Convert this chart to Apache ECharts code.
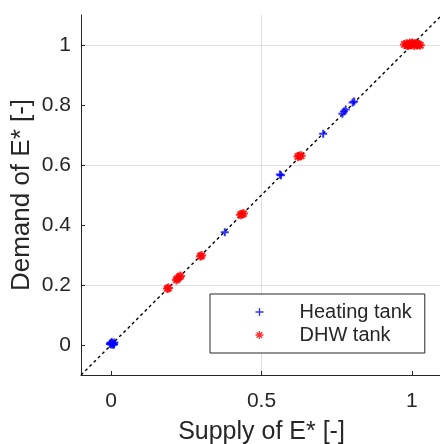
<!DOCTYPE html>
<html>
<head>
<meta charset="utf-8">
<script src="https://cdn.jsdelivr.net/npm/echarts@6/dist/echarts.min.js"></script>
<style>
html,body{margin:0;padding:0;background:#fff;}
#chart{width:440px;height:444px;}
</style>
</head>
<body>
<div id="chart"></div>
<script>
// ---- data ----
const seriesNames = ['Heating tank', 'DHW tank'];
const heatingTank = [
  [0.000, 0.002], [0.004, 0.006], [0.008, 0.004], [-0.004, 0.003], [0.011, 0.008],
  [0.002, 0.010], [0.006, 0.001], [-0.002, 0.007], [0.010, 0.002],
  [0.378, 0.376],
  [0.561, 0.568], [0.565, 0.566],
  [0.705, 0.704],
  [0.769, 0.771], [0.774, 0.778], [0.780, 0.785],
  [0.803, 0.808], [0.808, 0.812]
];
const dhwTank = [
  [0.187, 0.188], [0.191, 0.190],
  [0.217, 0.217], [0.221, 0.221], [0.227, 0.227], [0.231, 0.230],
  [0.297, 0.296], [0.301, 0.298],
  [0.430, 0.434], [0.435, 0.436], [0.440, 0.438],
  [0.621, 0.628], [0.626, 0.630], [0.632, 0.631],
  [0.975, 1.002], [0.982, 1.004], [0.988, 0.999], [0.993, 1.006], [0.998, 1.001],
  [1.003, 1.004], [1.008, 0.998], [1.013, 1.003], [1.018, 1.000], [1.023, 1.002],
  [1.028, 0.999], [0.985, 0.998], [1.000, 1.007], [1.015, 1.006]
];
const identityLine = [[-0.1, -0.1], [1.1, 1.1]];
const xTicks = [0, 0.5, 1];
const yTicks = [0, 0.2, 0.4, 0.6, 0.8, 1];
const axisRange = [-0.1, 1.1];
const xLabel = 'Supply of E* [-]';
const yLabel = 'Demand of E* [-]';

const plusPath = 'path://M5,0L5,10M0,5L10,5';
const starPath = 'path://M5,0L5,10M0,5L10,5M1.5,1.5L8.5,8.5M1.5,8.5L8.5,1.5';
const txt = '#262626';
const gridCol = '#dfdfdf';
const clear = 'rgba(0,0,0,0)';
const fontFam = '"Liberation Sans", Arial, Helvetica, sans-serif';

function fmt(v){ return String(Math.round(v*10)/10); }

const chart = echarts.init(document.getElementById('chart'), null, {renderer:'canvas'});
chart.setOption({
  animation: false,
  backgroundColor: '#fff',
  grid: {left: 81, top: 15, right: -2, bottom: 69, containLabel: false, outerBoundsMode: 'none'},
  xAxis: {
    type: 'value', min: axisRange[0], max: axisRange[1], interval: 0.1,
    name: xLabel, nameLocation: 'middle', nameGap: 45, nameMoveOverlap: false,
    nameTextStyle: {fontSize: 25, color: txt, fontFamily: fontFam},
    axisLine: {show: true, onZero: false, lineStyle: {color: txt, width: 1}},
    axisTick: {show: true, inside: true, length: 4, customValues: xTicks, lineStyle: {color: txt}},
    axisLabel: {show: true, customValues: xTicks, margin: 16, fontSize: 21, color: txt, fontFamily: fontFam, formatter: fmt},
    splitLine: {show: true, lineStyle: {color: [clear, gridCol, clear, clear, clear], width: 1}}
  },
  yAxis: {
    type: 'value', min: axisRange[0], max: axisRange[1], interval: 0.1,
    name: yLabel, nameLocation: 'middle', nameGap: 46, nameMoveOverlap: false,
    nameTextStyle: {fontSize: 26, color: txt, fontFamily: fontFam},
    axisLine: {show: true, onZero: false, lineStyle: {color: txt, width: 1}},
    axisTick: {show: true, inside: true, length: 4, customValues: yTicks, lineStyle: {color: txt}},
    axisLabel: {show: true, customValues: yTicks, margin: 10, fontSize: 21, color: txt, fontFamily: fontFam, formatter: fmt},
    splitLine: {show: true, lineStyle: {color: [clear, gridCol], width: 1}}
  },
  legend: {
    orient: 'vertical', left: 210, top: 294,
    padding: [8, 13, 8, 43], itemGap: 3,
    itemWidth: 8, itemHeight: 8,
    borderColor: txt, borderWidth: 1, backgroundColor: '#fff',
    textStyle: {fontSize: 20, color: txt, fontFamily: fontFam, padding: [0, 0, 0, 31]},
    data: [
      {name: seriesNames[0], icon: plusPath, itemStyle: {color: 'none', borderColor: '#0000ff', borderWidth: 1.3}},
      {name: seriesNames[1], icon: starPath, itemStyle: {color: 'none', borderColor: '#ff0000', borderWidth: 1.3}}
    ]
  },
  series: [
    {
      type: 'line', data: identityLine, symbol: 'none', silent: true, z: 1,
      lineStyle: {color: '#000', width: 1.4, type: [3, 3]}
    },
    {
      name: seriesNames[0], type: 'scatter', data: heatingTank, z: 3,
      symbol: plusPath, symbolSize: 8,
      itemStyle: {color: 'none', borderColor: '#0000ff', borderWidth: 2}
    },
    {
      name: seriesNames[1], type: 'scatter', data: dhwTank, z: 3,
      symbol: starPath, symbolSize: 9,
      itemStyle: {color: 'none', borderColor: '#ff0000', borderWidth: 2}
    }
  ]
});
</script>
</body>
</html>
